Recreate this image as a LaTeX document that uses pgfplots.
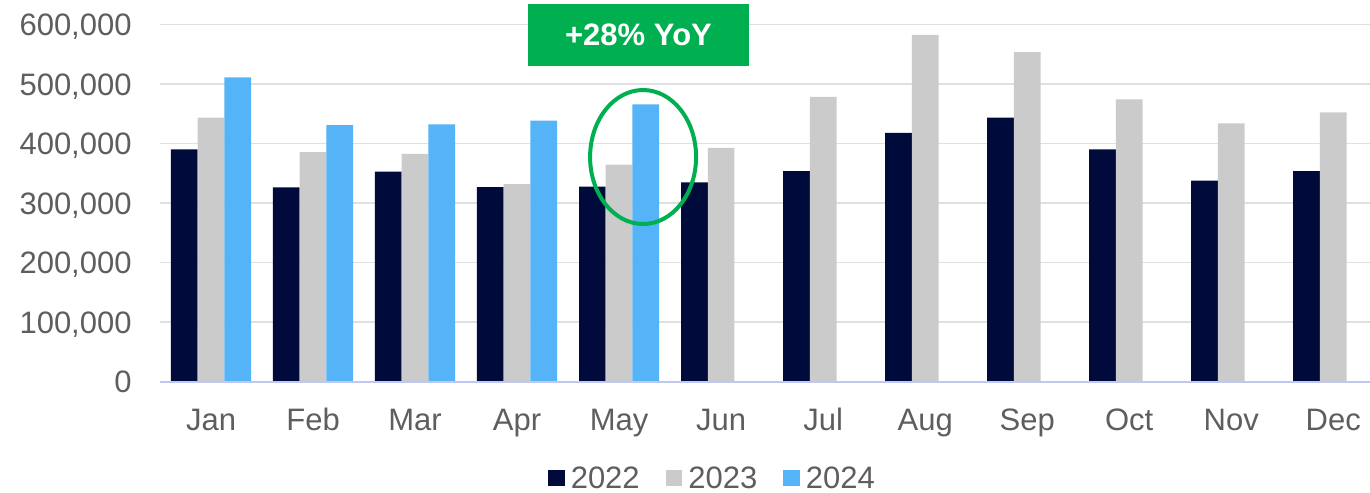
\documentclass[border=0pt]{standalone}
\usepackage{fontspec}
\setmainfont{Liberation Sans}
\usepackage{pgfplots}
\pgfplotsset{compat=1.18}
\definecolor{navy}{HTML}{010B3B}
\definecolor{lgray}{HTML}{CBCBCB}
\definecolor{sky}{HTML}{55B4F8}
\definecolor{boxgreen}{HTML}{00B050}
\definecolor{gridgray}{HTML}{E0E0E0}
\definecolor{axisblue}{HTML}{BFC8F2}
\definecolor{labgray}{HTML}{5E5E5E}
\begin{document}
\begin{tikzpicture}
\begin{axis}[
  name=ax,
  scale only axis, width=605pt, height=178.5pt,
  xmin=-0.5, xmax=11.36, ymin=0, ymax=600000,
  xtick={0,...,11},
  xticklabels={Jan,Feb,Mar,Apr,May,Jun,Jul,Aug,Sep,Oct,Nov,Dec},
  ytick={0,100000,200000,300000,400000,500000,600000},
  scaled y ticks=false,
  yticklabel style={/pgf/number format/fixed, /pgf/number format/1000 sep={,}, /pgf/number format/assume math mode=true},
  ymajorgrids, grid style={draw=gridgray, line width=0.8pt},
  axis line style={draw=none}, tick style={draw=none},
  ticklabel style={font=\fontsize{15.5}{18}\selectfont, text=labgray, inner sep=0pt},
  xticklabel style={anchor=base, yshift=-24.65pt},
  yticklabel style={anchor=base east, xshift=-14pt, yshift=-5.5pt},
  clip=false,
  legend style={draw=none, fill=none, legend columns=-1, at={(0.4558,-0.272)}, anchor=center,
    font=\fontsize{15.5}{18}\selectfont, text=labgray,
    /tikz/every even column/.append style={column sep=13pt},
    nodes={inner sep=0pt, anchor=base west}},
  legend image code/.code={\fill[#1] (0pt,0.85pt) rectangle (8.3pt,9.15pt); \path (11.3pt,0pt);},
]
\addplot[ybar, bar width=0.262, bar shift=-0.262, fill=navy, draw=none] coordinates {
 (0,390600) (1,326700) (2,353000) (3,327000) (4,328000) (5,335000)
 (6,354000) (7,418000) (8,444000) (9,390500) (10,337800) (11,354000)};
\addplot[ybar, bar width=0.262, bar shift=0, fill=lgray, draw=none] coordinates {
 (0,444000) (1,386000) (2,382700) (3,332000) (4,364700) (5,393000)
 (6,478500) (7,582700) (8,554000) (9,474600) (10,434000) (11,452700)};
\addplot[ybar, bar width=0.262, bar shift=0.262, fill=sky, draw=none] coordinates {
 (0,511600) (1,431000) (2,432600) (3,438700) (4,466000)};
\legend{2022,2023,2024}
\draw[axisblue, line width=1pt] (rel axis cs:0,0) -- (rel axis cs:1,0);
\draw[boxgreen, line width=2pt] (axis cs:4.235,377600) ellipse [x radius=26.5pt, y radius=33.5pt];
\node[fill=boxgreen, text=white, font=\bfseries\fontsize{15.5}{18}\selectfont, minimum width=110.5pt, minimum height=31pt, inner sep=0pt] at (axis cs:4.19,582700) {+28\% YoY};
\end{axis}
\pgfresetboundingbox
\path[use as bounding box] ([shift={(-80pt,-55.65pt)}]ax.south west) rectangle ([shift={(0pt,12.35pt)}]ax.north east);
\end{tikzpicture}
\end{document}
